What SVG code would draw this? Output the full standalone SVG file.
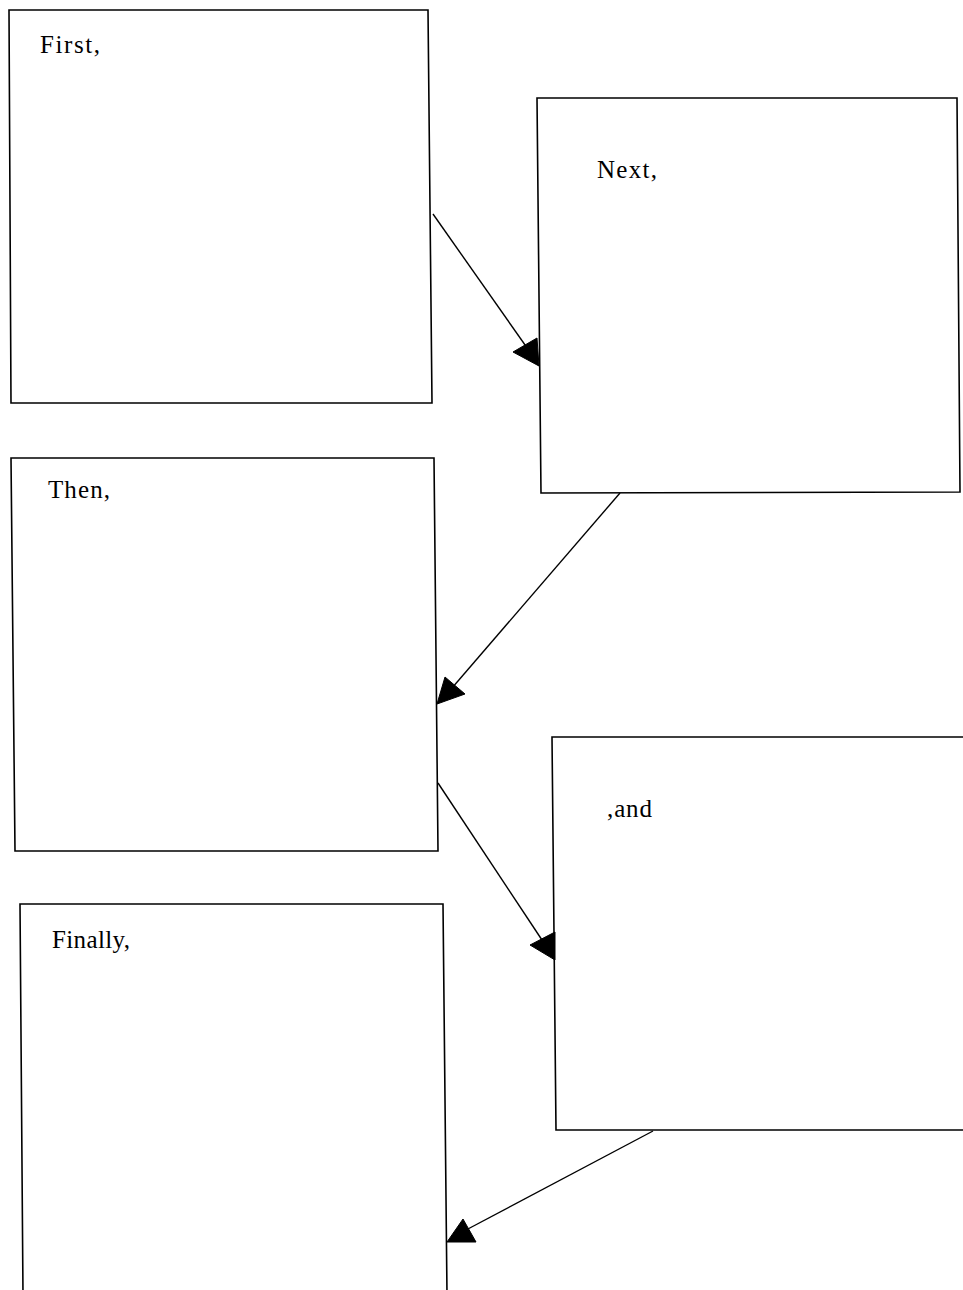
<svg xmlns="http://www.w3.org/2000/svg" width="963" height="1290" viewBox="0 0 963 1290">
<style>
.box{fill:none;stroke:#000;stroke-width:1.6}
.lbl{font-family:"Liberation Serif","Times New Roman",serif;font-size:25px;fill:#000}
.conn{stroke:#000;stroke-width:1.4;fill:none}
.head{fill:#000;stroke:#000;stroke-width:1}
</style>
<rect width="963" height="1290" fill="#fff"/>
<g id="node-first">
<polygon class="box" points="9,10 428,10 432,403 11,403"/>
<text class="lbl" x="40" y="53" textLength="60" lengthAdjust="spacing">First,</text>
</g>
<g id="node-next">
<polygon class="box" points="537,98 957,98 960,492 541,493"/>
<text class="lbl" x="597" y="178" textLength="60" lengthAdjust="spacing">Next,</text>
</g>
<g id="node-then">
<polygon class="box" points="11,458 434,458 438,851 15,851"/>
<text class="lbl" x="48" y="498" textLength="62" lengthAdjust="spacing">Then,</text>
</g>
<g id="node-and">
<polyline class="box" points="975,737 552,737 556,1130 975,1130"/>
<text class="lbl" x="607" y="817" textLength="45" lengthAdjust="spacing">,and</text>
</g>
<g id="node-finally">
<polyline class="box" points="23,1295 20,904 443,904 447,1295"/>
<text class="lbl" x="52" y="948" textLength="78" lengthAdjust="spacing">Finally,</text>
</g>
<g id="connectors">
<line class="conn" x1="433" y1="214" x2="530" y2="352"/>
<polygon class="head" points="513,352 537,338 539,366"/>
<line class="conn" x1="620" y1="493" x2="452" y2="688"/>
<polygon class="head" points="445,677 465,694 437,704"/>
<line class="conn" x1="438" y1="783" x2="542" y2="940"/>
<polygon class="head" points="530,945 555,932 555,960"/>
<line class="conn" x1="653" y1="1131" x2="466" y2="1230"/>
<polygon class="head" points="463,1219 476,1242 447,1242"/>
</g>
</svg>
